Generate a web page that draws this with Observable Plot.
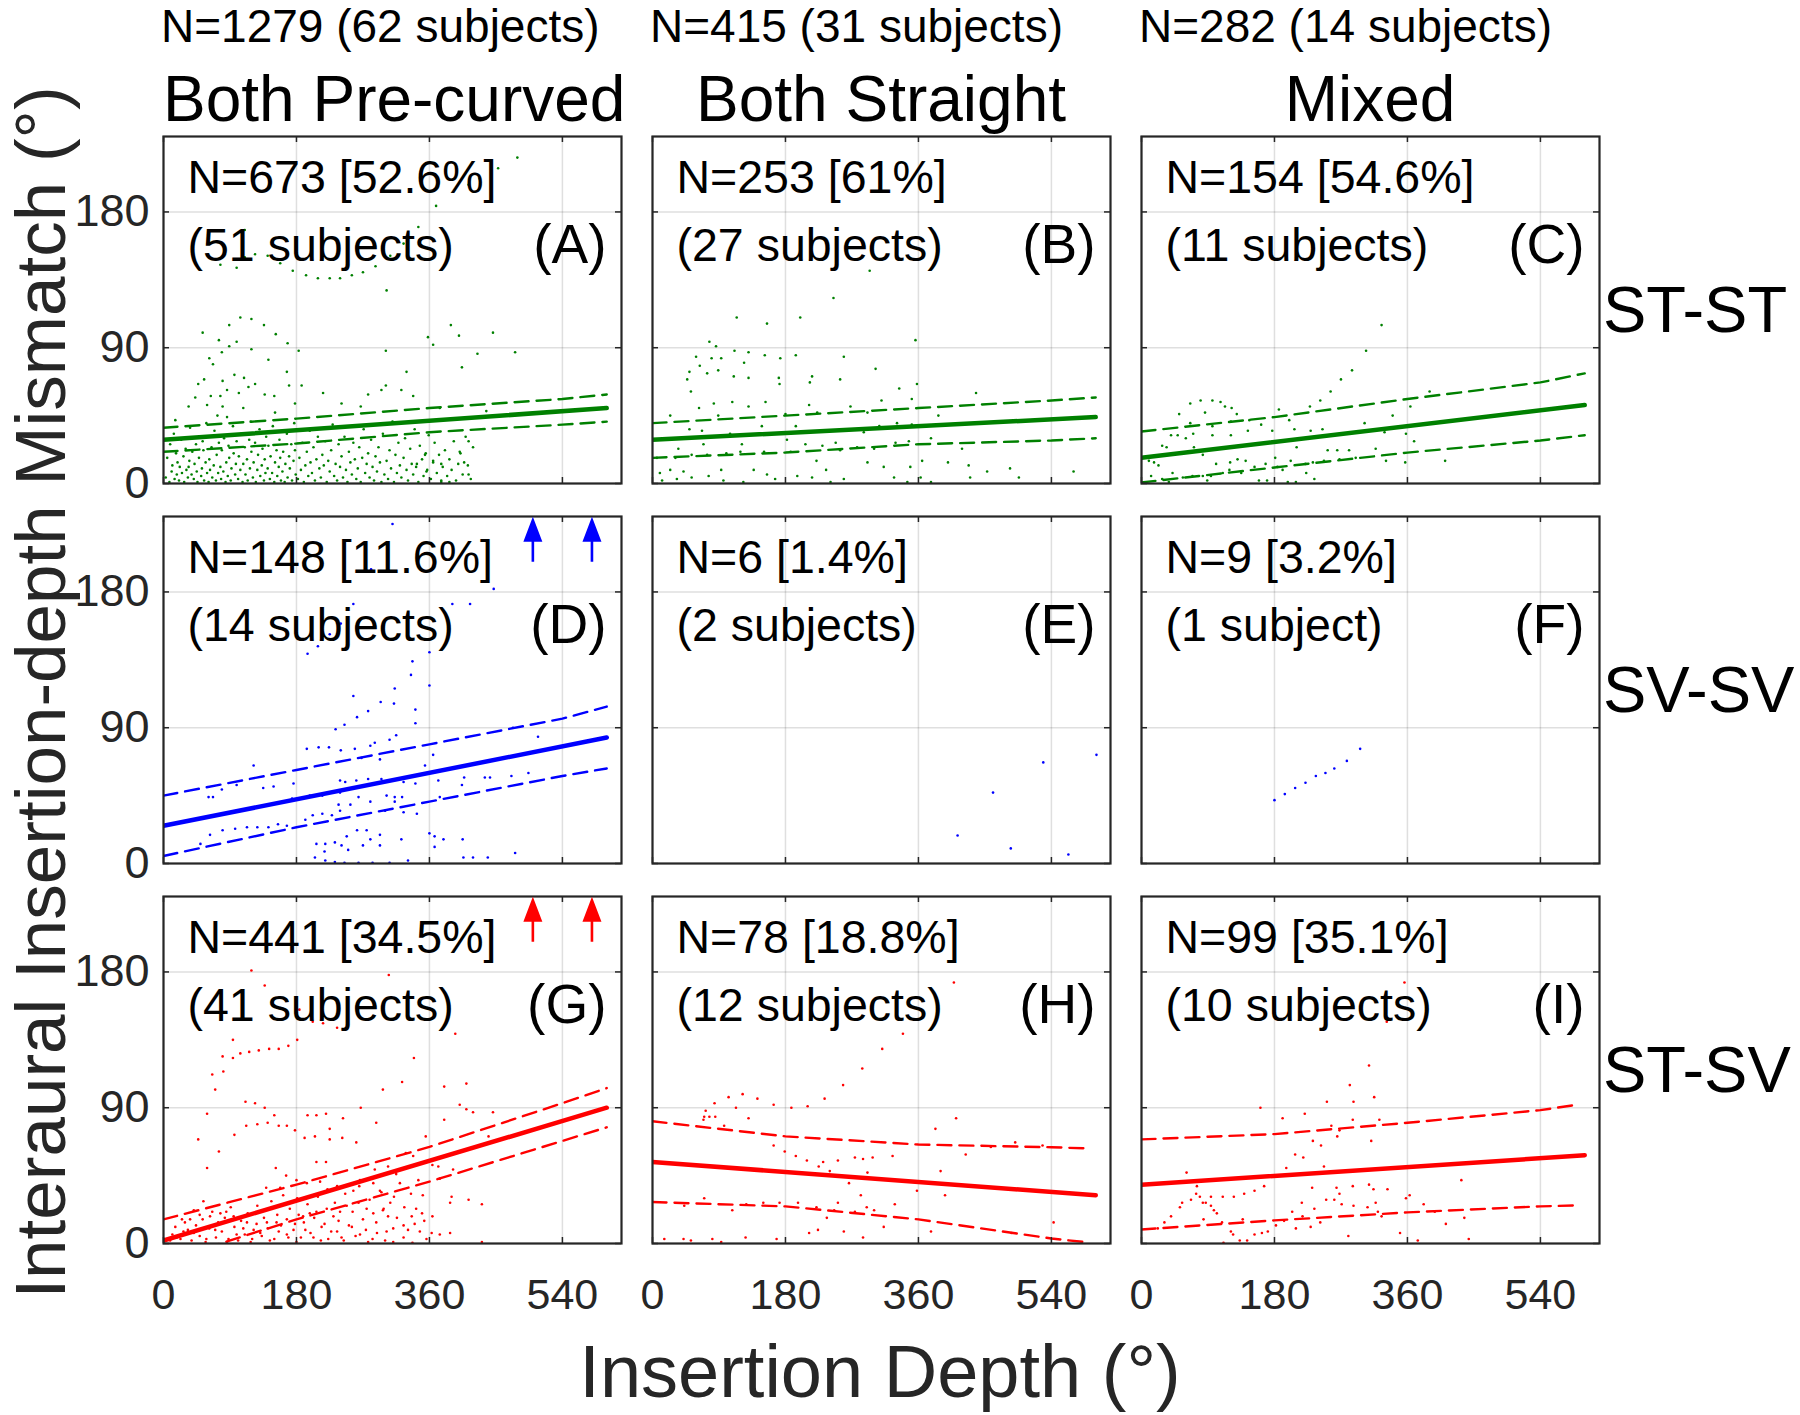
<!DOCTYPE html>
<html><head><meta charset="utf-8">
<script src="https://cdn.jsdelivr.net/npm/d3@7"></script>
<script src="https://cdn.jsdelivr.net/npm/@observablehq/plot@0.6"></script>
<style>
body{margin:0;background:#fff;}
#chart{position:relative;width:1800px;height:1415px;overflow:hidden;font-family:'Liberation Sans',Arial,Helvetica,sans-serif;}
.lbl{position:absolute;white-space:nowrap;}
#chart svg{position:absolute;}
</style></head><body><div id="chart"></div>
<script>
// ---------- categories / labels ----------
const columns = ["Both Pre-curved", "Both Straight", "Mixed"];
const columnTotals = ["N=1279 (62 subjects)", "N=415 (31 subjects)", "N=282 (14 subjects)"];
const rows = ["ST-ST", "SV-SV", "ST-SV"];
const rowColors = ["#008000", "#0000ff", "#ff0000"];
const panelLetters = ["(A)", "(B)", "(C)", "(D)", "(E)", "(F)", "(G)", "(H)", "(I)"];
const panelCounts = ["N=673 [52.6%]", "N=253 [61%]", "N=154 [54.6%]", "N=148 [11.6%]", "N=6 [1.4%]", "N=9 [3.2%]", "N=441 [34.5%]", "N=78 [18.8%]", "N=99 [35.1%]"];
const panelSubjects = ["(51 subjects)", "(27 subjects)", "(11 subjects)", "(14 subjects)", "(2 subjects)", "(1 subject)", "(41 subjects)", "(12 subjects)", "(10 subjects)"];
const xTicks = [0, 180, 360, 540];
const yTicks = [0, 90, 180];
const xDomain = [0, 620];
const yDomain = [0, 230];
const xLabel = "Insertion Depth (°)";
const yLabel = "Interaural Insertion-depth Mismatch (°)";

// ---------- scatter points [insertion depth, mismatch] ----------
const ptsA = [[479,216],[453,209],[428,202],[413,198],[369,184],[345,170],[325,159],[307,151],[287,144],[270,140],[255,138],[239,136],[225,136],[209,136],[193,138],[175,141],[158,146],[141,151],[124,152],[110,150],[99,143],[77,145],[110,168],[302,128],[104,110],[119,109],[89,105],[136,105],[53,100],[152,99],[75,95],[99,94],[89,91],[168,93],[119,89],[79,87],[183,88],[62,83],[142,82],[67,79],[167,74],[55,69],[96,72],[109,70],[80,68],[47,66],[124,66],[187,65],[170,65],[86,62],[102,60],[115,64],[137,59],[43,57],[64,58],[77,58],[150,58],[216,60],[277,59],[301,65],[295,62],[322,62],[329,74],[301,88],[358,97],[365,92],[389,105],[400,98],[446,100],[425,86],[476,87],[404,77],[338,58],[241,53],[267,51],[34,51],[80,51],[59,52],[108,50],[151,47],[178,53],[437,48],[374,50],[413,28],[401,21],[407,14],[413,6],[387,1],[376,2],[376,13],[365,15],[354,19],[356,8],[343,13],
[3,4],[5,17],[8,1],[9,26],[11,8],[12,12],[14,33],[15,3],[17,20],[18,6],[19,14],[16,42],
[21,2],[22,11],[24,29],[25,7],[27,18],[28,1],[30,23],[31,9],[33,4],[35,15],[36,37],[38,6],[39,21],[34,11],
[41,3],[42,13],[44,26],[45,8],[46,1],[48,17],[49,31],[51,5],[52,10],[54,22],[55,2],[57,14],[58,40],[59,7],[53,28],
[61,1],[62,16],[63,9],[65,24],[66,4],[68,12],[69,35],[71,2],[72,19],[74,7],[75,27],[77,11],[78,3],[79,22],[73,45],
[81,8],[82,30],[84,1],[85,14],[87,5],[88,25],[89,17],[91,2],[92,10],[94,38],[95,20],[97,6],[98,13],[99,28],[86,44],
[101,3],[102,18],[104,9],[105,33],[107,1],[108,13],[110,24],[111,6],[113,16],[114,2],[116,29],[117,10],[119,21],[118,41],
[121,4],[122,14],[124,27],[125,1],[127,9],[128,19],[130,36],[131,5],[133,12],[134,23],[136,2],[137,16],[139,31],[138,7],
[141,10],[142,25],[144,3],[145,18],[147,7],[148,38],[150,1],[151,14],[153,22],[154,5],[156,11],[157,29],[159,2],[158,17],
[161,8],[162,21],[164,1],[165,13],[167,33],[168,4],[170,18],[171,10],[173,26],[174,2],[176,15],[177,40],[179,6],[178,22],
[182,3],[184,17],[186,9],[188,27],[190,1],[192,12],[194,21],[196,5],[198,35],[199,14],
[201,7],[203,24],[205,2],[207,16],[209,31],[211,10],[213,4],[215,19],[217,12],[219,28],
[221,1],[223,15],[225,8],[227,22],[229,39],[231,5],[233,13],[235,2],[237,26],[239,11],
[241,18],[243,4],[245,31],[247,9],[249,1],[251,21],[253,14],[255,6],[257,27],[259,16],
[261,3],[263,10],[265,24],[267,1],[269,17],[271,36],[273,7],[275,13],[277,20],[279,4],
[281,29],[283,11],[285,2],[287,18],[289,8],[291,24],[293,14],[295,1],[297,33],[299,6],
[302,15],[304,3],[306,22],[308,10],[310,41],[312,1],[314,19],[316,7],[318,27],[320,12],
[322,4],[325,17],[327,30],[329,9],[331,2],[334,23],[336,13],[338,6],[340,36],
[342,11],[345,1],[347,25],[350,16],[352,5],[355,20],[357,9],[359,32],
[362,3],[365,14],[367,27],[370,7],[373,19],[376,1],[378,11],
[381,22],[384,5],[387,16],[390,9],[393,28],[396,2],[399,13],
[402,20],[405,6],[409,31],[412,12],[416,3],[419,24]];
const ptsB = [[294,141],[245,123],[114,110],[200,110],[155,106],[356,95],[77,94],[86,91],[111,88],[130,87],[59,84],[80,83],[93,83],[152,85],[173,83],[194,85],[259,84],[124,80],[64,78],[89,75],[74,73],[50,74],[302,76],[47,69],[110,71],[130,70],[171,70],[216,71],[254,69],[213,67],[172,66],[52,61],[334,63],[358,66],[438,60],[351,56],[63,50],[83,53],[108,54],[130,51],[153,54],[212,52],[268,51],[310,55],[24,45],[89,45],[180,46],[223,47],[291,47],[387,45],[331,40],[351,39],[50,36],[67,35],[105,33],[148,38],[194,38],[286,34],[307,38],[377,30],[35,23],[69,26],[121,26],[182,29],[207,26],[230,25],[248,27],[277,24],[329,27],[347,28],[419,23],[6,17],[31,17],[53,19],[74,19],[100,20],[119,21],[151,21],[187,21],[222,15],[254,22],[300,23],[365,15],[400,14],[428,12],[10,7],[24,9],[42,8],[53,4],[76,5],[93,9],[137,9],[155,6],[166,3],[196,5],[216,4],[235,9],[259,3],[291,14],[313,11],[327,4],[349,11],[363,4],[453,8],[484,10],[496,4],[570,8],[430,4],[13,2],[33,3],[96,2],[123,1],[241,1],[345,1],[377,1]];
const ptsC = [[325,105],[304,88],[285,75],[270,69],[256,61],[242,55],[228,51],[186,49],[200,42],[390,61],[364,51],[340,45],[302,40],[329,34],[358,33],[369,28],[411,15],[357,14],[331,15],[317,23],[66,53],[80,55],[96,55],[107,54],[113,51],[122,50],[86,47],[51,46],[129,46],[66,40],[96,38],[121,41],[146,42],[162,39],[177,35],[70,33],[49,32],[40,32],[60,30],[96,32],[121,32],[144,35],[207,36],[229,35],[245,36],[282,34],[28,25],[34,24],[71,24],[83,19],[101,13],[120,14],[130,16],[141,15],[153,11],[168,13],[181,17],[191,9],[202,15],[210,24],[222,13],[232,14],[252,22],[265,22],[281,22],[290,17],[268,16],[10,15],[17,14],[23,12],[13,5],[28,3],[42,7],[56,4],[69,5],[83,5],[94,5],[110,7],[119,9],[135,7],[159,2],[170,2],[198,1],[209,1],[223,7],[234,3],[247,15],[184,11],[37,1],[89,2]];
const ptsD = [[310,225],[281,195],[447,182],[257,172],[391,172],[415,172],[240,159],[225,152],[209,144],[195,139],[337,134],[360,140],[335,125],[360,118],[313,116],[294,107],[312,106],[277,101],[262,97],[341,102],[341,93],[245,92],[233,89],[194,76],[210,77],[224,77],[240,75],[259,76],[280,78],[286,80],[306,82],[315,85],[268,70],[293,69],[365,72],[473,90],[507,84],[122,65],[354,65],[176,53],[135,50],[149,51],[99,52],[79,49],[61,44],[67,44],[239,55],[246,54],[261,55],[277,56],[295,56],[325,54],[341,53],[372,55],[407,57],[435,57],[442,57],[471,58],[494,60],[404,52],[174,43],[198,45],[215,45],[239,47],[264,44],[302,45],[313,44],[323,44],[374,44],[237,39],[253,39],[280,41],[313,41],[239,35],[300,35],[343,33],[325,34],[215,33],[202,32],[192,29],[228,32],[155,26],[167,25],[142,24],[127,24],[113,24],[97,23],[80,22],[63,19],[50,13],[207,13],[219,13],[232,14],[241,12],[250,9],[270,12],[280,16],[293,12],[262,22],[275,22],[248,18],[322,16],[218,8],[205,4],[219,2],[232,1],[245,0.5],[264,0.5],[283,0.5],[306,0.5],[331,2],[360,20],[367,18],[379,16],[367,11],[405,16],[406,4],[419,4],[439,4],[476,7],[257,111],[293,19]];
const ptsE = [[413,18.6],[461,47],[485,10],[529,67],[563,6],[601,72]];
const ptsF = [[180,42],[194,46],[208,50],[222,53.5],[236,58],[249,60],[261,63],[278,68],[296,76]];
const ptsG = [[119,181],[305,178],[137,171],[184,155],[202,147],[216,146],[235,143],[395,139],[94,135],[181,135],[169,131],[156,129],[143,129],[129,128],[116,127],[104,126],[80,124],[94,123],[339,123],[81,114],[66,112],[323,107],[380,104],[410,106],[70,102],[297,102],[111,94],[124,93],[137,90],[267,90],[401,92],[410,89],[419,87],[446,87],[59,86],[150,85],[195,85],[207,85],[220,86],[243,83],[380,82],[288,80],[112,78],[127,79],[141,80],[156,78],[167,78],[178,75],[96,72],[225,76],[47,69],[191,70],[205,71],[225,69],[242,70],[261,67],[440,71],[75,61],[207,54],[220,54],[304,51],[328,60],[338,58],[355,71],[364,52],[372,51],[59,50],[152,50],[166,45],[286,49],[315,46],[392,49],[180,42],[194,40],[212,41],[235,38],[266,42],[284,40],[139,37],[158,37],[257,35],[295,34],[312,31],[351,32],[374,43],[390,31],[388,27],[413,29],[431,26],[54,28],[41,22],[25,16],[36,16],[49,19],[63,18],[77,20],[85,21],[95,18],[113,14],[126,13],[140,14],[153,14],[167,16],[178,13],[183,19],[189,18],[198,20],[207,21],[221,23],[230,18],[239,21],[248,25],[264,27],[275,23],[284,20],[298,23],[304,18],[325,12],[336,18],[342,23],[353,15],[364,18],[374,6],[388,7],[431,1],[9,2],[18,4],[27,8],[41,7],[58,3],[70,9],[86,1],[99,6],[108,10],[120,3],[131,7],[144,2],[156,8],[169,4],[180,1],[192,9],[203,4],[214,11],[223,3],[235,8],[244,2],[255,11],[266,6],[277,1],[289,7],[300,2],[311,10],[325,4],[337,0.5],[347,8],[363,7],
[12,6],[16,11],[23,3],[29,14],[33,9],[38,2],[44,12],[49,5],[53,16],[57,1],[62,10],[66,21],[71,4],[74,14],[79,8],[83,17],[88,3],[91,24],[96,11],[101,2],[105,15],[110,6],[114,20],[118,1],[122,9],[127,25],[133,5],[136,17],[141,10],[146,28],[150,3],[154,19],[159,12],[162,32],[167,6],[171,23],[176,9],[181,30],[186,4],[190,14],[195,26],[199,7],[204,17],[209,31],[213,2],[218,13],[222,36],[227,8],[232,27],[237,15],[241,4],[246,33],[251,12],[256,21],[260,5],[265,38],[270,16],[274,9],[279,29],[283,3],[288,14],[293,35],[297,22],[302,8],[307,27],[311,1],[316,17],[320,40],[326,24],[331,9],[335,33],[340,13],[345,42],[350,20],[356,3]];
const ptsH = [[408,173],[339,139],[311,129],[284,116],[258,105],[233,96],[210,91],[188,90],[164,92],[142,96],[122,99],[103,97],[84,93],[113,90],[72,88],[70,84],[69,82],[77,84],[85,84],[130,83],[97,78],[411,83],[383,76],[491,67],[528,65],[458,64],[164,65],[179,61],[424,59],[325,58],[274,57],[285,56],[298,57],[194,58],[209,55],[231,54],[225,51],[251,55],[240,48],[291,47],[390,48],[266,40],[358,35],[396,32],[282,32],[70,30],[43,25],[108,22],[127,26],[150,27],[172,27],[197,27],[222,24],[246,22],[251,27],[274,21],[290,24],[300,22],[328,26],[236,17],[313,11],[377,8],[543,14],[486,7],[212,7],[224,9],[259,8],[285,4],[16,3],[42,3],[52,2],[81,3],[93,1],[126,4],[168,3]];
const ptsI = [[356,173],[332,147],[308,118],[282,105],[251,94],[287,94],[315,97],[161,90],[221,86],[191,83],[286,82],[322,82],[257,78],[268,75],[265,71],[232,68],[311,68],[243,65],[208,59],[219,57],[247,51],[196,50],[61,47],[433,42],[166,38],[75,38],[153,35],[139,33],[125,31],[110,31],[94,31],[79,31],[74,33],[83,27],[87,27],[94,25],[67,29],[55,27],[52,24],[40,18],[31,14],[22,10],[84,16],[98,22],[102,20],[109,14],[137,16],[121,8],[124,6],[133,2],[143,2],[153,6],[163,7],[171,8],[182,12],[193,15],[204,21],[209,10],[217,27],[218,18],[229,11],[231,37],[234,23],[242,14],[250,29],[261,29],[264,37],[268,33],[271,26],[286,38],[287,25],[280,5],[306,24],[308,39],[314,36],[317,27],[320,21],[325,18],[333,36],[350,7],[358,30],[363,32],[374,2],[382,26],[397,21],[412,13],[437,17],[443,3],[111,0.5]];

// ---------- regression fits and confidence bounds ----------
const fitA = [[0,29],[600,50]];
const upA = [[0,37],[180,43],[360,50],[540,56],[600,59]];
const loA = [[0,21],[180,26.5],[360,34],[540,39],[600,41]];
const fitB = [[0,29],[600,44]];
const upB = [[0,40],[180,45],[360,50],[540,55],[600,57]];
const loB = [[0,17],[180,20.5],[360,26],[540,28.5],[600,30]];
const fitC = [[0,17],[600,52]];
const upC = [[0,34.5],[180,44],[360,56],[540,67],[600,73]];
const loC = [[0,0.7],[180,10.6],[360,20.5],[540,28.5],[600,32]];
const fitD = [[0,25],[600,83.5]];
const upD = [[0,45],[180,62],[360,79],[540,96],[600,104]];
const loD = [[0,5],[180,24],[360,41],[540,58],[600,63]];
const fitG = [[0,2],[600,90]];
const upG = [[0,16],[180,39],[360,64],[540,93],[600,103]];
const loG = [[0,-12],[180,16],[360,41],[540,68],[600,77]];
const fitH = [[0,54],[600,32]];
const upH = [[0,81],[180,71],[360,65.6],[540,63.8],[590,63]];
const loH = [[0,27.5],[180,24.6],[360,16],[540,3.3],[590,0.7]];
const fitI = [[0,39],[600,58.5]];
const upI = [[0,69],[180,72.5],[360,80],[540,88.4],[590,92]];
const loI = [[0,9.3],[180,15.3],[360,20.6],[540,24.6],[590,25.3]];

// ---------- out-of-range indicators (arrows) ----------
const arrowsD = [500, 580];
const arrowsG = [500, 580];
const arrowBase = 200;

// ---------- assemble ----------
const panelPoints = [ptsA, ptsB, ptsC, ptsD, ptsE, ptsF, ptsG, ptsH, ptsI];
const panelFits = [fitA, fitB, fitC, fitD, null, null, fitG, fitH, fitI];
const panelUpper = [upA, upB, upC, upD, null, null, upG, upH, upI];
const panelLower = [loA, loB, loC, loD, null, null, loG, loH, loI];
const panelArrows = [[], [], [], arrowsD, [], [], arrowsG, [], []];

const chart = document.getElementById("chart");
const FONT = "'Liberation Sans', Arial, Helvetica, sans-serif";
const INK = "#262626";
const colLeft = [163, 652, 1141], rowTop = [136, 516, 896], PW = 458, PH = 347;

const arrowShape = {
  draw(ctx, l) {
    const hw = 1.3, w = 9.5, h = 25;
    ctx.moveTo(-hw, 0); ctx.lineTo(-hw, -(l - h)); ctx.lineTo(-w, -(l - h));
    ctx.lineTo(0, -l); ctx.lineTo(w, -(l - h)); ctx.lineTo(hw, -(l - h)); ctx.lineTo(hw, 0); ctx.closePath();
  }
};

const X = d => d[0], Y = d => d[1];

for (let i = 0; i < 9; i++) {
  const r = Math.floor(i / 3), c = i % 3;
  const color = rowColors[r];
  const ml = c === 0 ? 110 : 4, mr = 4, mt = 4, mb = r === 2 ? 80 : 4;
  const marks = [
    Plot.gridX(xTicks, {stroke: INK, strokeOpacity: 0.15, strokeWidth: 1.5}),
    Plot.gridY(yTicks, {stroke: INK, strokeOpacity: 0.15, strokeWidth: 1.5}),
    Plot.dot(panelPoints[i], {x: X, y: Y, r: 1.3, fill: color})
  ];
  if (panelFits[i]) {
    marks.push(
      Plot.line(panelUpper[i], {x: X, y: Y, stroke: color, strokeWidth: 2.4, strokeDasharray: "14,8", clip: true}),
      Plot.line(panelLower[i], {x: X, y: Y, stroke: color, strokeWidth: 2.4, strokeDasharray: "14,8", clip: true}),
      Plot.line(panelFits[i], {x: X, y: Y, stroke: color, strokeWidth: 4.5, clip: true})
    );
  }
  marks.push(
    Plot.frame({stroke: INK, strokeWidth: 2.2}),
    Plot.ruleY(yTicks, {stroke: INK, strokeWidth: 1.5, insetRight: PW - 6}),
    Plot.ruleY(yTicks, {stroke: INK, strokeWidth: 1.5, insetLeft: PW - 6}),
    Plot.ruleX(xTicks, {stroke: INK, strokeWidth: 1.5, insetTop: PH - 6}),
    Plot.ruleX(xTicks, {stroke: INK, strokeWidth: 1.5, insetBottom: PH - 6}),
    Plot.text([panelCounts[i]], {text: d => d, frameAnchor: "top-left", dx: 24, dy: 56, lineAnchor: "bottom", textAnchor: "start", fontSize: 46.5, fill: "#000"}),
    Plot.text([panelSubjects[i]], {text: d => d, frameAnchor: "top-left", dx: 24, dy: 124, lineAnchor: "bottom", textAnchor: "start", fontSize: 46.5, fill: "#000"}),
    Plot.text([panelLetters[i]], {text: d => d, frameAnchor: "top-right", dx: -15, dy: 126, lineAnchor: "bottom", textAnchor: "end", fontSize: 55, fill: "#000"})
  );
  if (panelArrows[i].length) {
    marks.push(Plot.vector(panelArrows[i], {x: d => d, y: () => arrowBase, length: 45, rotate: 0, anchor: "start", shape: arrowShape, fill: color, stroke: "none"}));
  }
  if (c === 0) marks.push(Plot.axisY(yTicks, {anchor: "left", tickSize: 0, tickPadding: 14, fontSize: 45, fill: INK, label: null}));
  if (r === 2) marks.push(Plot.axisX(xTicks, {anchor: "bottom", tickSize: 0, tickPadding: 35, fontSize: 43, fill: INK, label: null}));

  const svg = Plot.plot({
    width: PW + ml + mr, height: PH + mt + mb,
    marginLeft: ml, marginRight: mr, marginTop: mt, marginBottom: mb,
    x: {domain: xDomain, axis: null},
    y: {domain: yDomain, axis: null},
    style: {fontFamily: FONT, background: "transparent", overflow: "visible"},
    marks
  });
  svg.style.left = (colLeft[c] - ml) + "px";
  svg.style.top = (rowTop[r] - mt) + "px";
  chart.appendChild(svg);
}

// ---------- text outside the panels ----------
function addLabel(text, css) {
  const d = document.createElement("div");
  d.className = "lbl";
  d.textContent = text;
  Object.assign(d.style, css);
  chart.appendChild(d);
  return d;
}
const BASE = 0.8465; // baseline offset (em) in a line-height:1 box
columns.forEach((t, c) => {
  addLabel(t, {left: colLeft[c] + "px", width: PW + "px", textAlign: "center", top: (121 - BASE * 64) + "px", fontSize: "64px", lineHeight: "64px", color: "#000"});
});
columnTotals.forEach((t, c) => {
  addLabel(t, {left: (colLeft[c] - 2) + "px", top: (42 - BASE * 46) + "px", fontSize: "46px", lineHeight: "46px", color: "#000"});
});
rows.forEach((t, r) => {
  addLabel(t, {left: "1603px", top: rowTop[r] + "px", height: PH + "px", display: "flex", alignItems: "center", fontSize: "65px", lineHeight: "65px", color: "#000"});
});
addLabel(xLabel, {left: (880 - 600) + "px", width: "1200px", textAlign: "center", top: (1398 - BASE * 74) + "px", fontSize: "74px", lineHeight: "74px", color: INK});
// rotated y label: centre x 40 keeps its whole glyph box inside the page
addLabel(yLabel, {left: (40 - 700) + "px", width: "1400px", textAlign: "center", top: (692 - 35.5) + "px", fontSize: "71px", lineHeight: "71px", color: INK, transform: "rotate(-90deg)", transformOrigin: "50% 50%"});
</script></body></html>
